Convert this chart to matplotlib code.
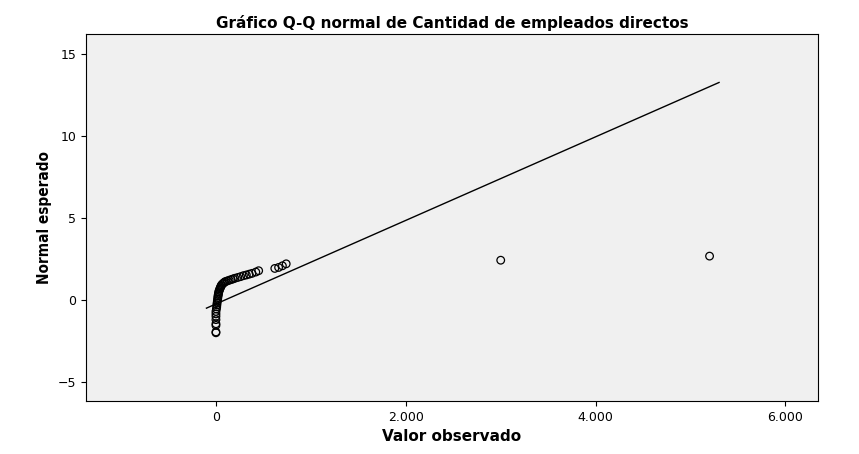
import matplotlib
matplotlib.use("Agg")
import matplotlib.pyplot as plt

observed = [0,0,0,0,0,0,0,0,5,8,10,12,15,18,20,22,25,28,30,35,40,45,50,55,60,70,80,90,100,120,140,160,180,200,230,260,290,320,350,380,420,450,620,660,700,740,3000,5200]
expected = [-2.0,-1.95,-1.55,-1.45,-1.2,-1.0,-0.85,-0.7,-0.55,-0.42,-0.3,-0.18,-0.06,0.05,0.15,0.25,0.33,0.42,0.5,0.58,0.66,0.73,0.8,0.86,0.92,0.98,1.03,1.08,1.12,1.16,1.2,1.24,1.28,1.32,1.37,1.42,1.48,1.52,1.57,1.62,1.7,1.78,1.92,1.98,2.08,2.2,2.42,2.67]
line_x = [-100, 5300]
line_y = [-0.5, 13.25]

fig = plt.figure(figsize=(8.59, 4.54), dpi=100)
fig.patch.set_facecolor("white")
ax = fig.add_axes([0.1, 0.117, 0.852, 0.808])
ax.set_facecolor("#f0f0f0")
ax.plot(line_x, line_y, color="black", lw=1)
ax.scatter(observed, expected, s=30, facecolors="none", edgecolors="black", linewidths=0.9)
ax.set_xlim(-1370, 6340)
ax.set_ylim(-6.15, 16.2)
ax.set_xticks([0, 2000, 4000, 6000])
ax.set_xticklabels(["0", "2.000", "4.000", "6.000"])
ax.set_yticks([-5, 0, 5, 10, 15])
ax.tick_params(labelsize=9)
ax.set_xlabel("Valor observado", fontsize=11, fontweight="bold")
ax.set_ylabel("Normal esperado", fontsize=11, fontweight="bold", fontstretch="condensed")
ax.set_title("Gráfico Q-Q normal de Cantidad de empleados directos", fontsize=11, fontweight="bold", pad=4)
fig.savefig("out.png", dpi=100)
